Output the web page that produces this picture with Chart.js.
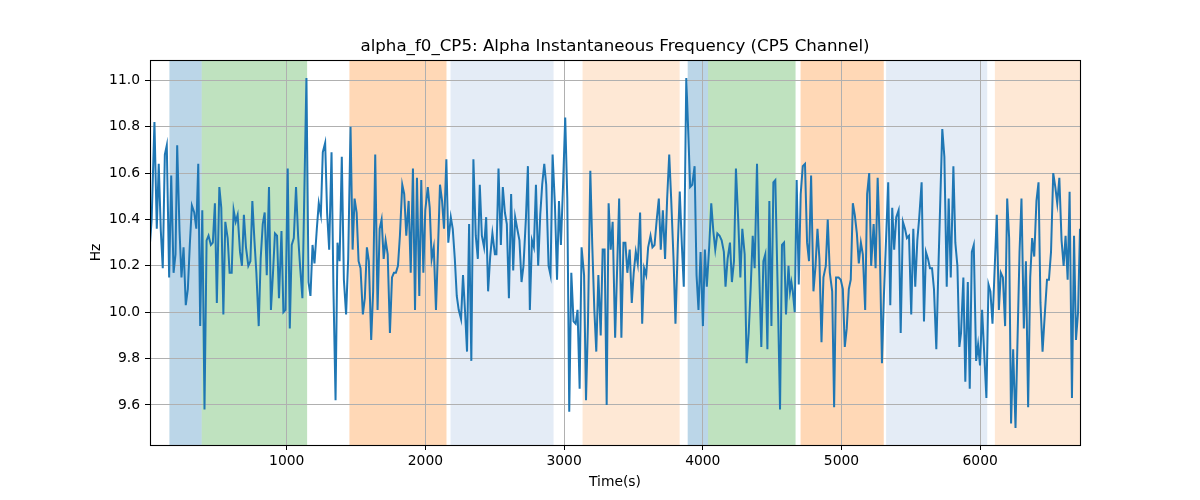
<!DOCTYPE html>
<html>
<head>
<meta charset="utf-8">
<script src="https://cdn.jsdelivr.net/npm/chart.js@4.4.1/dist/chart.umd.min.js"></script>
<style>
html,body{margin:0;padding:0;background:#fff;}
canvas{display:block;}
</style>
</head>
<body>
<canvas id="c" width="1200" height="500"></canvas>
<script>
// ---- data ----
const times = [14,26,46,63,77,92,106,121,135,152,167,184,198,210,227,241,256,272,287,301,316,333,348,362,376,391,407,422,436,453,467,482,496,514,528,543,557,574,588,603,617,632,646,663,677,691,706,723,738,752,767,781,798,812,827,
841,856,872,886,901,915,930,944,962,976,991,1007,1022,1036,1051,1067,1082,1096,1113,1142,1157,1171,1186,1200,1217,1231,1246,1260,1277,1291,1306,1323,1337,1352,1366,1381,1397,1412,1428,1443,1460,1475,1489,1504,1518,1532,1549,1563,1578,1592,1609,1623,1638,1655,
1670,1684,1699,1713,1728,1744,1759,1773,1787,1802,1816,1833,1847,1862,1879,1894,1910,1925,1939,1956,1970,1985,1999,2017,2031,2045,2060,2076,2091,2105,2120,2134,2151,2165,2183,2197,2212,2226,2240,2257,2271,2286,2300,2315,2331,2346,2363,2378,2392,2407,2423,2438,2452,2467,2483,
2501,2512,2527,2544,2558,2573,2587,2602,2618,2633,2647,2662,2678,2693,2707,2725,2739,2753,2768,2782,2797,2813,2828,2842,2857,2871,2888,2902,2917,2934,2949,2963,2977,2992,3008,3023,3037,3052,3068,3083,3097,3112,3126,3144,3158,3172,3189,3203,3218,3232,3247,3264,3278,3292,3307,3321,
3336,3350,3368,3397,3413,3428,3442,3456,3473,3488,3502,3517,3531,3548,3563,3577,3592,3606,3623,3637,3652,3668,3683,3697,3712,3728,3743,3758,3772,3789,3803,3820,3834,3849,3863,3881,3895,3909,3924,3941,3955,3969,3984,4001,4015,4029,4047,4061,4076,4090,4105,4121,4136,4152,
4164,4179,4196,4210,4225,4239,4256,4271,4285,4302,4316,4331,4345,4360,4374,4391,4405,4422,4437,4451,4466,4480,4495,4509,4523,4540,4557,4571,4586,4600,4618,4629,4639,4649,4663,4677,4692,4706,4721,4737,4752,4766,4781,4798,4813,4827,4841,4856,4870,4887,4901,4916,4933,4947,4961,4979,
4995,5010,5024,5038,5053,5067,5082,5096,5111,5125,5140,5154,5171,5185,5200,5214,5232,5246,5261,5275,5292,5306,5320,5337,5352,5366,5380,5395,5412,5427,5443,5458,5472,5487,5503,5518,5532,5547,5561,5578,5595,5609,5624,5638,5653,5667,5684,5698,5713,5727,5742,5759,5773,5788,
5807,5821,5836,5850,5862,5879,5893,5911,5925,5940,5954,5971,5985,5999,6014,6045,6060,6074,6089,6120,6135,6149,6164,6180,6195,6209,6223,6238,6255,6284,6298,6315,6330,6346,6361,6375,6390,6406,6421,6435,6450,6464,6482,6496,6511,6527,6542,6556,6571,6587,6602,6616,6631,6645,6662,6677,6691,6706,6720];

const hz = [10.30,10.40,10.82,10.36,10.64,10.35,10.19,10.68,10.72,10.15,10.59,10.17,10.25,10.72,10.35,10.15,10.28,10.03,10.10,10.29,10.46,10.43,10.36,10.64,9.94,10.44,9.58,10.31,10.33,10.29,10.30,10.47,10.04,10.54,10.45,9.99,10.39,10.32,10.17,10.17,10.44,10.39,10.42,10.26,10.20,10.42,10.28,10.20,10.22,10.48,10.31,10.17,9.94,10.23,10.38,
10.43,10.16,10.54,10.01,10.17,10.34,10.33,10.06,10.35,10.00,10.01,10.62,9.93,10.29,10.32,10.54,10.33,10.20,10.06,11.01,10.13,10.07,10.29,10.21,10.36,10.47,10.42,10.69,10.73,10.43,10.27,10.69,10.09,9.62,10.30,10.22,10.67,10.14,9.99,10.23,10.80,10.27,10.49,10.43,10.22,10.19,9.99,10.06,10.28,10.22,9.88,10.09,10.68,10.01,
10.36,10.40,10.23,10.31,10.25,9.91,10.15,10.17,10.17,10.20,10.33,10.55,10.51,10.33,10.48,10.17,10.62,10.01,10.58,10.07,10.57,10.17,10.44,10.54,10.45,10.23,10.28,10.01,10.28,10.55,10.48,10.36,10.66,10.30,10.41,10.36,10.23,10.07,10.01,9.97,10.16,10.00,9.83,10.38,9.79,10.66,10.33,10.23,10.55,10.33,10.28,10.41,10.09,10.24,10.34,
10.25,10.25,10.62,10.29,10.54,10.43,10.38,10.06,10.51,10.18,10.41,10.36,10.31,10.13,10.20,10.41,10.63,10.01,10.31,10.28,10.55,10.20,10.42,10.55,10.64,10.55,10.20,10.16,10.68,10.46,10.14,10.48,10.29,10.54,10.84,10.49,9.57,10.17,9.96,9.95,10.01,9.67,10.28,10.16,9.62,9.95,10.61,10.29,10.01,9.83,10.16,9.90,10.27,10.27,9.60,10.47,
10.27,10.39,9.89,10.49,9.89,10.30,10.30,10.17,10.27,10.04,10.17,10.26,10.21,10.43,9.95,10.19,10.16,10.28,10.33,10.28,10.29,10.40,10.49,10.27,10.44,10.23,10.49,10.68,10.49,10.23,9.95,10.29,10.52,10.29,10.11,11.01,10.78,10.54,10.55,10.63,10.16,10.01,10.26,9.94,10.27,10.11,10.29,10.47,10.35,10.27,10.34,10.33,10.31,10.26,
10.11,10.23,10.30,10.13,10.22,10.62,10.39,10.15,10.36,10.25,9.78,9.91,10.10,10.33,10.19,10.64,10.21,9.85,10.22,10.25,9.84,10.48,9.94,10.56,10.57,10.10,9.58,10.29,10.30,9.99,10.20,10.09,10.13,10.09,10.00,10.57,10.12,10.51,10.63,10.64,10.30,10.22,10.59,10.09,10.20,10.36,10.23,9.87,10.15,10.20,10.40,10.17,10.09,9.59,10.15,10.15,
10.14,10.10,9.85,9.93,10.10,10.14,10.47,10.42,10.34,10.21,10.30,10.25,10.01,10.51,10.60,10.20,10.38,10.19,10.58,10.32,9.78,10.07,10.29,10.56,10.03,10.45,10.27,10.41,10.44,9.91,10.39,10.36,10.32,10.33,9.99,10.36,10.11,10.31,10.41,10.56,9.96,10.26,10.23,10.19,10.19,10.10,9.84,10.17,10.49,10.79,10.67,10.11,10.49,10.15,
10.63,10.30,10.20,9.85,9.91,10.15,9.70,10.13,9.67,10.26,10.29,9.79,9.86,9.77,10.01,9.63,10.12,10.09,9.95,10.42,10.01,10.17,10.15,9.94,10.49,10.32,9.52,9.84,9.50,10.26,10.49,9.93,10.22,9.59,10.15,10.32,10.24,10.48,10.56,10.04,9.83,9.97,10.14,10.14,10.26,10.60,10.54,10.47,10.58,10.31,10.20,10.33,10.14,10.52,9.63,10.33,9.88,10.00,10.36];

// shaded intervals (s)
const spanStart = [154, 387, 1452, 2181, 3133, 3891, 4038, 4705, 5322, 6106];
const spanEnd   = [387, 1147, 2152, 2924, 3833, 4038, 4669, 5305, 6051, 6760];
const spanKind  = ['blue','green','orange','lightblue','lightorange','blue','green','orange','lightblue','lightorange'];

const xTicks = [1000, 2000, 3000, 4000, 5000, 6000];
const yTicks = [9.6, 9.8, 10.0, 10.2, 10.4, 10.6, 10.8, 11.0];
const xRange = [14, 6720];
const yRange = [9.427, 11.088];

const titleText = 'alpha_f0_CP5: Alpha Instantaneous Frequency (CP5 Channel)';
const xLabel = 'Time(s)';
const yLabel = 'Hz';

// ---- styles ----
const spanColors = {
  blue: 'rgba(31,119,180,0.3)',
  green: 'rgba(44,160,44,0.3)',
  orange: 'rgba(255,127,14,0.3)',
  lightblue: '#e4ecf6',
  lightorange: '#fee8d5'
};

const points = times.map((t, i) => ({x: t, y: hz[i]}));

const framePlugin = {
  id: 'frameAndSpans',
  beforeDraw(chart) {
    const {ctx, chartArea: a, scales: {x}} = chart;
    ctx.save();
    ctx.fillStyle = '#fff';
    ctx.fillRect(0, 0, chart.width, chart.height);
    ctx.beginPath();
    ctx.rect(a.left, a.top, a.right - a.left, a.bottom - a.top);
    ctx.clip();
    for (let i = 0; i < spanStart.length; i++) {
      const x0 = x.getPixelForValue(spanStart[i]);
      const x1 = x.getPixelForValue(spanEnd[i]);
      ctx.fillStyle = spanColors[spanKind[i]];
      ctx.fillRect(x0, a.top, x1 - x0, a.bottom - a.top);
    }
    ctx.restore();
  },
  afterDatasetsDraw(chart) {
    const {ctx, chartArea: a} = chart;
    ctx.save();
    ctx.strokeStyle = '#000';
    ctx.lineWidth = 1.1;
    ctx.strokeRect(a.left + 0.5, a.top + 0.5, a.right - a.left, a.bottom - a.top);
    ctx.restore();
  }
};

Chart.defaults.font.family = '"DejaVu Sans", sans-serif';
Chart.defaults.font.size = 13.89;
Chart.defaults.color = '#000';

new Chart(document.getElementById('c'), {
  type: 'line',
  data: {
    datasets: [{
      data: points,
      borderColor: '#1f77b4',
      borderWidth: 2,
      pointRadius: 0,
      tension: 0,
      fill: false
    }]
  },
  options: {
    responsive: false,
    animation: false,
    devicePixelRatio: 1,
    parsing: false,
    layout: {padding: {left: 0, right: 120, top: 0, bottom: 0}},
    plugins: {
      legend: {display: false},
      tooltip: {enabled: false},
      title: {
        display: true,
        text: titleText,
        fullSize: false,
        color: '#000',
        font: {size: 16.67, weight: 'normal', family: '"DejaVu Sans", sans-serif'},
        padding: {top: 37, bottom: 3}
      }
    },
    scales: {
      x: {
        type: 'linear',
        min: xRange[0],
        max: xRange[1],
        afterBuildTicks: s => { s.ticks = xTicks.map(v => ({value: v})); },
        afterFit: s => { s.height = 55; },
        ticks: {
          callback: v => String(v),
          maxRotation: 0, autoSkip: false, padding: 3,
          font: {size: 13.89}
        },
        grid: {color: '#b0b0b0', lineWidth: 1, tickColor: '#000', tickLength: 5, tickWidth: 1},
        border: {display: false},
        title: {display: true, text: xLabel, font: {size: 13.89}, padding: {top: 0, bottom: 9}}
      },
      y: {
        type: 'linear',
        min: yRange[0],
        max: yRange[1],
        afterBuildTicks: s => { s.ticks = yTicks.map(v => ({value: v})); },
        afterFit: s => { s.width = 150; },
        ticks: {
          callback: v => Number(v).toFixed(1),
          autoSkip: false, padding: 5,
          font: {size: 13.89}
        },
        grid: {color: '#b0b0b0', lineWidth: 1, tickColor: '#000', tickLength: 5, tickWidth: 1},
        border: {display: false},
        title: {display: true, text: yLabel, font: {size: 13.89}, padding: {top: 88, bottom: 0}}
      }
    }
  },
  plugins: [framePlugin]
});
</script>
</body>
</html>
